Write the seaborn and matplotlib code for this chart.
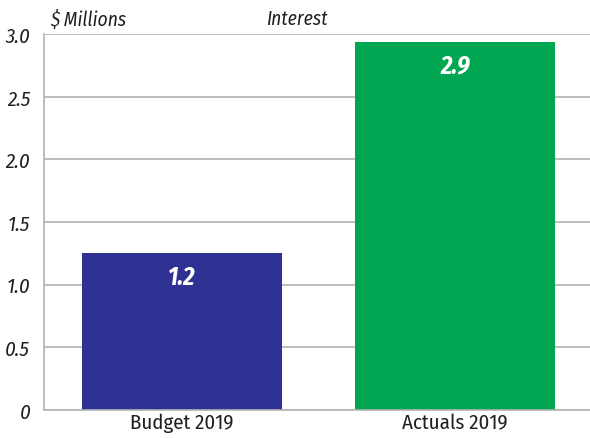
import matplotlib
matplotlib.use("Agg")
import matplotlib.pyplot as plt
import seaborn as sns
import pandas as pd

# chart data
categories = ["Budget 2019", "Actuals 2019"]
values = [1.25, 2.94]
value_labels = ["1.2", "2.9"]
bar_colors = ["#2E3192", "#00A651"]
y_ticks = [0, 0.5, 1.0, 1.5, 2.0, 2.5, 3.0]
y_tick_labels = ["0", "0.5", "1.0", "1.5", "2.0", "2.5", "3.0"]

sns.set_style("white")
plt.rcParams['font.family'] = ['Fira Sans Condensed', 'Roboto Condensed', 'DejaVu Sans']

df = pd.DataFrame({"category": categories, "value": values})

fig = plt.figure(figsize=(5.9, 4.39), dpi=100)
ax = fig.add_axes([0.0746, 0.0638, 0.9254, 0.8562])

sns.barplot(data=df, x="category", y="value", hue="category",
            palette=bar_colors, width=0.73, saturation=1, legend=False,
            linewidth=0, ax=ax)

ax.set_ylim(0, 3.0)
ax.set_xlim(-0.505, 1.495)
ax.set_yticks(y_ticks)
ax.set_yticklabels(y_tick_labels, fontsize=15, style="italic", color="#231f20")
ax.tick_params(axis="x", labelsize=15, length=0, pad=2, labelcolor="#231f20")
ax.tick_params(axis="y", length=0, pad=10)
ax.set_xlabel("")
ax.set_ylabel("")

ax.yaxis.grid(True, color="#b3b3b3", linewidth=1.2)
ax.set_axisbelow(True)
for side in ["top", "right"]:
    ax.spines[side].set_visible(False)
for side in ["left", "bottom"]:
    ax.spines[side].set_color("#b3b3b3")
    ax.spines[side].set_linewidth(1.2)

# value labels inside the bars
for i, (v, lab) in enumerate(zip(values, value_labels)):
    ax.text(i, v - 0.09, lab, ha="center", va="top", color="white",
            fontsize=18, fontweight="bold", style="italic")

fig.text(0.085, 0.955, "$ Millions", fontsize=14, style="italic", va="center", color="#231f20")
fig.text(0.503, 0.955, "Interest", fontsize=14, style="italic", va="center", ha="center",
         color="#231f20")

fig.savefig("out.png", dpi=100)
